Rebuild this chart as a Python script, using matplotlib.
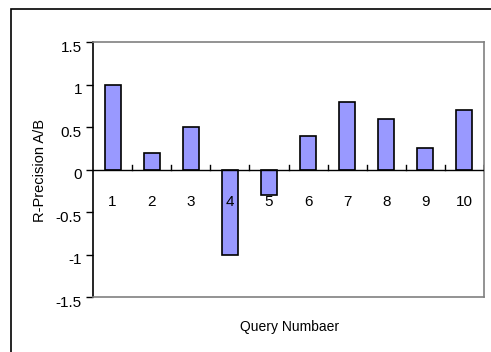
import matplotlib.pyplot as plt
import matplotlib.patches as patches
import numpy as np

plt.rcParams['font.family'] = ['Liberation Sans', 'DejaVu Sans']

queries = ['1', '2', '3', '4', '5', '6', '7', '8', '9', '10']
rprec_ab = [1.0, 0.2, 0.5, -1.0, -0.3, 0.4, 0.8, 0.6, 0.25, 0.7]
yticks = [1.5, 1, 0.5, 0, -0.5, -1, -1.5]
ytick_labels = ['1.5', '1', '0.5', '0', '-0.5', '-1', '-1.5']

W, H = 491, 352
fig = plt.figure(figsize=(W/100, H/100), dpi=100)

# outer chart frame (runs off the right/bottom edge)
fig.patches.append(patches.Rectangle((11/W, -0.05), 1.1, 1 - 9/H + 0.05,
                                     transform=fig.transFigure, fill=False,
                                     edgecolor='black', linewidth=1.2, zorder=0))

ax = fig.add_axes([93/W, 1 - 297/H, (484-93)/W, (297-42)/H])
x = np.arange(len(queries))
ax.bar(x, rprec_ab, width=0.41, color='#9999ff', edgecolor='black',
       linewidth=1.2, zorder=3)

ax.set_xlim(-0.5, len(queries) - 0.5)
ax.set_ylim(-1.5, 1.5)

# zero line with category ticks
ax.axhline(0, color='black', linewidth=1.0, zorder=4)
for b in np.arange(0.5, len(queries) - 0.4, 1.0):
    ax.plot([b, b], [0, 0.05], color='black', linewidth=1.0, zorder=4)

ax.set_xticks([])
ax.set_yticks(yticks)
ax.set_yticklabels([])
ax.tick_params(axis='y', direction='out', length=5, width=1.0, color='black')
for v, lab in zip(yticks, ytick_labels):
    ax.annotate(lab, xy=(0, v), xycoords=('axes fraction', 'data'),
                xytext=(-8, -4), textcoords='offset points',
                ha='right', va='center', fontsize=11)

for xi, lab in zip(x, queries):
    ax.text(xi, -0.38, lab, ha='center', va='center', fontsize=11, zorder=5)

ax.spines['left'].set_color('black')
ax.spines['left'].set_linewidth(1.2)
for s in ['top', 'right', 'bottom']:
    ax.spines[s].set_color('#808080')
    ax.spines[s].set_linewidth(1.2)

fig.text(40/W, 1 - 170/H, 'R-Precision A/B', rotation=90, ha='center',
         va='center', fontsize=10.5)
fig.text(290/W, 1 - 327/H, 'Query Numbaer', ha='center', va='center',
         fontsize=10)

fig.savefig('out.png', dpi=100)
